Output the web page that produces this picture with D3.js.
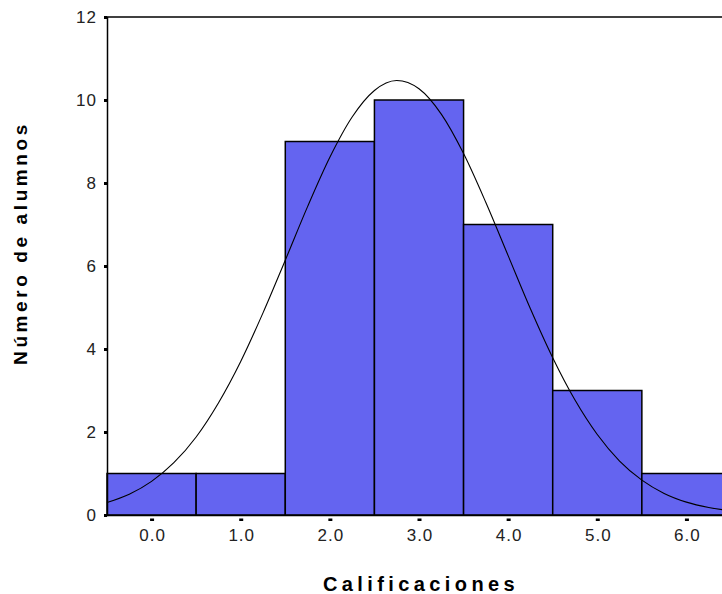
<!DOCTYPE html>
<html>
<head>
<meta charset="utf-8">
<script src="https://cdn.jsdelivr.net/npm/d3@7"></script>
<style>
  body { margin: 0; background: #fff; }
  svg { display: block; font-family: "Liberation Sans", Arial, sans-serif; }
</style>
</head>
<body>
<div id="chart"></div>
<script>
// grade bins (centers) and counts
const grades = [0, 1, 2, 3, 4, 5, 6];
const gradeLabels = ["0.0", "1.0", "2.0", "3.0", "4.0", "5.0", "6.0"];
const counts = [1, 1, 9, 10, 7, 3, 1];
const yTicks = [0, 2, 4, 6, 8, 10, 12];

// fitted normal curve
const curveX = [-0.5, -0.25, 0, 0.25, 0.5, 0.75, 1, 1.25, 1.5, 1.75, 2, 2.25, 2.5, 2.75,
                3, 3.25, 3.5, 3.75, 4, 4.25, 4.5, 4.75, 5, 5.25, 5.5, 5.75, 6, 6.25, 6.5];
const curveY = [0.30, 0.50, 0.81, 1.26, 1.88, 2.70, 3.70, 4.87, 6.14, 7.43, 8.62, 9.59, 10.23, 10.47,
                10.27, 9.66, 8.71, 7.53, 6.25, 4.97, 3.79, 2.77, 1.94, 1.30, 0.84, 0.52, 0.31, 0.18, 0.10];

const width = 722;
const height = 594;
const margin = { top: 17, left: 107, bottom: 79 };
const plotRight = 731; // plot runs past the window edge

const svg = d3.select("#chart")
  .append("svg")
  .attr("width", width)
  .attr("height", height);

const x = d3.scaleLinear()
  .domain([-0.5, 6.5])
  .range([margin.left, plotRight]);

const y = d3.scaleLinear()
  .domain([0, 12])
  .range([height - margin.bottom, margin.top]);

// bars
svg.append("g")
  .selectAll("rect")
  .data(grades)
  .join("rect")
  .attr("x", (d) => x(d - 0.5))
  .attr("y", (d, i) => y(counts[i]))
  .attr("width", (d) => x(d + 0.5) - x(d - 0.5))
  .attr("height", (d, i) => y(0) - y(counts[i]))
  .attr("fill", "#6464f0")
  .attr("stroke", "#000")
  .attr("stroke-width", 1.5);

// normal curve
const line = d3.line()
  .x((d) => x(d))
  .y((d, i) => y(curveY[i]))
  .curve(d3.curveMonotoneX);

svg.append("path")
  .datum(curveX)
  .attr("d", line)
  .attr("fill", "none")
  .attr("stroke", "#000")
  .attr("stroke-width", 1.1);

// frame top line
svg.append("line")
  .attr("x1", x(-0.5)).attr("x2", plotRight)
  .attr("y1", y(12)).attr("y2", y(12))
  .attr("stroke", "#000")
  .attr("stroke-width", 1.5);

// y axis
const yAxis = svg.append("g")
  .attr("transform", `translate(${x(-0.5)},0)`)
  .call(d3.axisLeft(y).tickValues(yTicks).tickFormat(d3.format("d")).tickSize(3).tickPadding(7));
yAxis.select(".domain").attr("stroke-width", 1.5);
yAxis.selectAll(".tick line").attr("stroke-width", 3);
yAxis.selectAll(".tick text")
  .attr("font-size", 17)
  .attr("letter-spacing", 1)
  .attr("fill", "#222")
  .attr("font-family", "Liberation Sans, Arial, sans-serif");

// x axis
const xAxis = svg.append("g")
  .attr("transform", `translate(0,${y(0)})`)
  .call(d3.axisBottom(x).tickValues(grades).tickFormat((d, i) => gradeLabels[i]).tickSize(6).tickSizeOuter(0).tickPadding(8));
xAxis.select(".domain").attr("stroke-width", 1.5);
xAxis.selectAll(".tick line")
  .attr("stroke-width", 4)
  .attr("stroke-dasharray", "0,3.5,2.5");
xAxis.selectAll(".tick text")
  .attr("font-size", 17)
  .attr("letter-spacing", 1)
  .attr("dx", 0.5)
  .attr("fill", "#222")
  .attr("font-family", "Liberation Sans, Arial, sans-serif");

// axis titles
svg.append("text")
  .attr("x", (margin.left + plotRight) / 2 + 2)
  .attr("y", 591)
  .attr("text-anchor", "middle")
  .attr("font-size", 20)
  .attr("font-weight", "bold")
  .attr("letter-spacing", 4.4)
  .text("Calificaciones");

svg.append("text")
  .attr("transform", `translate(27,243) rotate(-90)`)
  .attr("text-anchor", "middle")
  .attr("font-size", 19)
  .attr("font-weight", "bold")
  .attr("letter-spacing", 3.6)
  .text("Número de alumnos");
</script>
</body>
</html>
